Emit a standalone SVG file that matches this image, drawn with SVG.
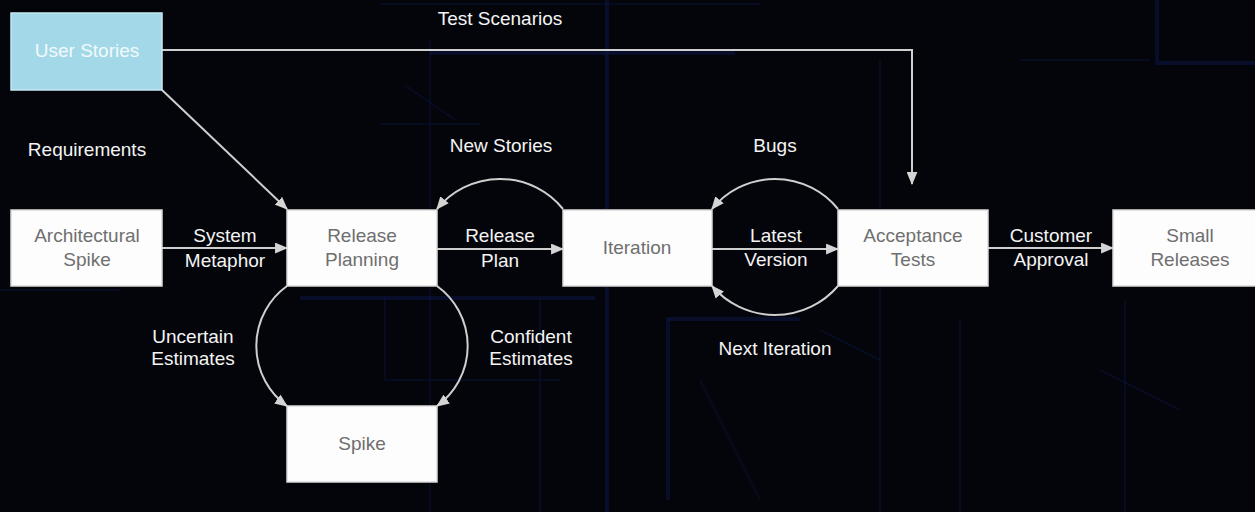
<svg xmlns="http://www.w3.org/2000/svg" width="1255" height="512" viewBox="0 0 1255 512">
  <style>
    .node rect { fill: #fdfdfd; stroke: #d9d9d9; stroke-width: 1.5; }
    .node text { font-family: "Liberation Sans", Arial, sans-serif; font-size: 19px; fill: #6f6f6f; text-anchor: middle; }
    .story rect { fill: #a2d8e7; stroke: #c6e9f2; }
    .story text { fill: #f2fafc; }
    .label { font-family: "Liberation Sans", Arial, sans-serif; font-size: 19px; fill: #f4f4f4; text-anchor: middle; }
    .edge { fill: none; stroke: #cfcfcf; stroke-width: 2; marker-end: url(#arrow); }
    .grid { fill: none; stroke: #0e1a52; stroke-width: 4; opacity: 0.45; }
    .grid.thin { stroke-width: 2; opacity: 0.32; }
  </style>
  <defs>
    <marker id="arrow" viewBox="0 0 12 10" refX="11" refY="5" markerWidth="13" markerHeight="11" markerUnits="userSpaceOnUse" orient="auto">
      <path d="M0,0 L12,5 L0,10 z" fill="#d4d4d4"/>
    </marker>
  </defs>

  <!-- dark backdrop with faint circuit traces -->
  <rect x="0" y="0" width="1255" height="512" fill="#04050a"/>
  <g id="backdrop">
    <path class="grid" d="M607,0 V512"/>
    <path class="grid thin" d="M430,40 V512"/>
    <path class="grid thin" d="M380,4 H760"/>
    <path class="grid" d="M430,53 H735"/>
    <path class="grid thin" d="M380,124 H480"/>
    <path class="grid thin" d="M405,85 L455,120"/>
    <path class="grid" d="M300,298 H595"/>
    <path class="grid thin" d="M385,298 V380 H560"/>
    <path class="grid" d="M668,318 V500"/>
    <path class="grid" d="M668,319 H800"/>
    <path class="grid thin" d="M700,380 L760,500"/>
    <path class="grid thin" d="M820,330 L880,360"/>
    <path class="grid thin" d="M1100,370 L1180,410"/>
    <path class="grid thin" d="M1125,300 V512"/>
    <path class="grid thin" d="M540,300 V512"/>
    <path class="grid" d="M1157,0 V63 H1255"/>
    <path class="grid thin" d="M1020,60 H1150"/>
    <path class="grid thin" d="M0,290 H120"/>
    <path class="grid thin" d="M880,60 V512"/>
    <path class="grid thin" d="M960,320 V512"/>
  </g>

  <!-- connectors -->
  <g id="connectors">
    <path class="edge" d="M162,50 H912 V184"/>
    <path class="edge" d="M162,90 L287,209"/>
    <path class="edge" d="M162,248 H287"/>
    <path class="edge" d="M437,249 H563"/>
    <path class="edge" d="M712,249 H838"/>
    <path class="edge" d="M988,248 H1113"/>
    <path class="edge" d="M563,209 A81,81 0 0 0 437,209"/>
    <path class="edge" d="M838,209 A81,81 0 0 0 712,209"/>
    <path class="edge" d="M838,286 A83,83 0 0 1 712,286"/>
    <path class="edge" d="M287,286 A74,74 0 0 0 287,406"/>
    <path class="edge" d="M437,286 A74,74 0 0 1 437,406"/>
  </g>

  <!-- connector labels -->
  <g id="labels">
    <text class="label" x="500" y="25">Test Scenarios</text>
    <text class="label" x="87" y="156">Requirements</text>
    <text class="label" x="501" y="152">New Stories</text>
    <text class="label" x="775" y="152">Bugs</text>
    <text class="label" x="225" y="242">System</text>
    <text class="label" x="225" y="267">Metaphor</text>
    <text class="label" x="500" y="242">Release</text>
    <text class="label" x="500" y="267">Plan</text>
    <text class="label" x="776" y="242">Latest</text>
    <text class="label" x="776" y="266">Version</text>
    <text class="label" x="1051" y="242">Customer</text>
    <text class="label" x="1051" y="266">Approval</text>
    <text class="label" x="193" y="343">Uncertain</text>
    <text class="label" x="193" y="365">Estimates</text>
    <text class="label" x="531" y="343">Confident</text>
    <text class="label" x="531" y="365">Estimates</text>
    <text class="label" x="775" y="355">Next Iteration</text>
  </g>

  <!-- nodes -->
  <g id="user-stories" class="node story">
    <rect x="11" y="13" width="151" height="77"/>
    <text x="87" y="57">User Stories</text>
  </g>
  <g id="architectural-spike" class="node">
    <rect x="11" y="210" width="151" height="76"/>
    <text x="87" y="242">Architectural</text>
    <text x="87" y="266">Spike</text>
  </g>
  <g id="release-planning" class="node">
    <rect x="287" y="210" width="150" height="76"/>
    <text x="362" y="242">Release</text>
    <text x="362" y="266">Planning</text>
  </g>
  <g id="iteration" class="node">
    <rect x="563" y="210" width="149" height="76"/>
    <text x="637" y="254">Iteration</text>
  </g>
  <g id="acceptance-tests" class="node">
    <rect x="838" y="210" width="150" height="76"/>
    <text x="913" y="242">Acceptance</text>
    <text x="913" y="266">Tests</text>
  </g>
  <g id="small-releases" class="node">
    <rect x="1113" y="210" width="155" height="76"/>
    <text x="1190" y="242">Small</text>
    <text x="1190" y="266">Releases</text>
  </g>
  <g id="spike" class="node">
    <rect x="287" y="406" width="150" height="76"/>
    <text x="362" y="450">Spike</text>
  </g>
</svg>
